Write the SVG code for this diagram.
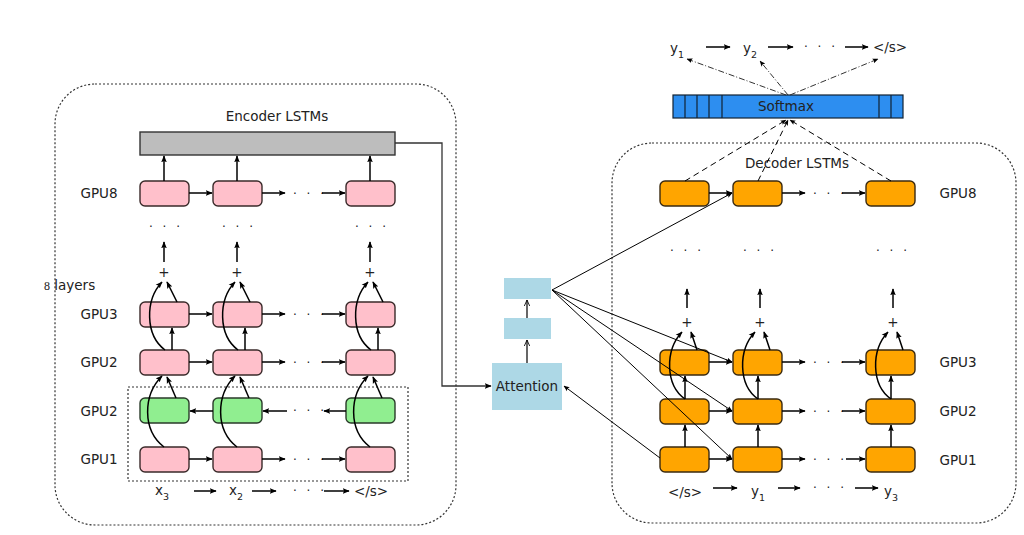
<svg xmlns="http://www.w3.org/2000/svg" width="1024" height="535" viewBox="0 0 1024 535">
<defs>
<marker id="ah" viewBox="0 0 10 10" refX="9" refY="5" markerWidth="7" markerHeight="7" orient="auto" markerUnits="userSpaceOnUse"><path d="M0,1 L10,5 L0,9 L2,5 z" fill="#000"/></marker>
<marker id="ahs" viewBox="0 0 10 10" refX="9" refY="5" markerWidth="6" markerHeight="6" orient="auto" markerUnits="userSpaceOnUse"><path d="M0,1 L10,5 L0,9 L2,5 z" fill="#000"/></marker>
<marker id="open" viewBox="0 0 10 10" refX="9" refY="5" markerWidth="7" markerHeight="7" orient="auto" markerUnits="userSpaceOnUse"><path d="M0,1 L9,5 L0,9" fill="none" stroke="#000" stroke-width="1.2"/></marker>
</defs>
<style>
text{font-family:"DejaVu Sans","Liberation Sans",sans-serif;font-size:13.5px;fill:#222}
.lbl{text-anchor:middle}
.pink{fill:#ffc0cb;stroke:#3a2a2a;stroke-width:1.4}
.green{fill:#90ee90;stroke:#2a3a2a;stroke-width:1.4}
.orange{fill:#ffa500;stroke:#3a2a10;stroke-width:1.4}
.blue{fill:#add8e6}
.a{fill:none;stroke:#000;stroke-width:1.5;marker-end:url(#ah)}
.t{fill:none;stroke:#000;stroke-width:1;marker-end:url(#ahs)}
.dash{fill:none;stroke:#000;stroke-width:1;stroke-dasharray:6,4;marker-end:url(#ahs)}
.dd{fill:none;stroke:#333;stroke-width:1;stroke-dasharray:6,2,1,2;marker-end:url(#ahs)}
.dots{font-size:12px;letter-spacing:3px}
.frame{fill:none;stroke:#333;stroke-width:1.2;stroke-dasharray:2,2}
</style>
<rect width="1024" height="535" fill="#fff"/>

<g id="encoder-frame"><rect class="frame" x="55" y="84" width="401" height="441" rx="40"/></g>
<g id="decoder-frame"><rect class="frame" x="612" y="143" width="404" height="380" rx="40"/></g>
<g id="bidir-frame"><rect class="frame" x="128" y="387" width="280" height="94"/></g>

<text class="lbl" x="277" y="121">Encoder LSTMs</text>
<text class="lbl" x="797" y="168">Decoder LSTMs</text>
<text x="44" y="290"><tspan font-family="Liberation Serif,serif" font-size="12">8</tspan> layers</text>

<text class="lbl" x="99" y="198">GPU8</text>
<text class="lbl" x="99" y="319">GPU3</text>
<text class="lbl" x="99" y="367">GPU2</text>
<text class="lbl" x="99" y="416">GPU2</text>
<text class="lbl" x="99" y="464">GPU1</text>

<g id="enc-out"><rect x="140" y="132" width="255" height="23" fill="#bdbdbd" stroke="#333" stroke-width="1.4"/></g>

<g id="enc-gpu8"><rect class="pink" x="140" y="181" width="49" height="25" rx="5"/><rect class="pink" x="213" y="181" width="49" height="25" rx="5"/><rect class="pink" x="346" y="181" width="49" height="25" rx="5"/></g>
<g id="enc-gpu3"><rect class="pink" x="140" y="302" width="49" height="25" rx="5"/><rect class="pink" x="213" y="302" width="49" height="25" rx="5"/><rect class="pink" x="346" y="302" width="49" height="25" rx="5"/></g>
<g id="enc-gpu2"><rect class="pink" x="140" y="350" width="49" height="25" rx="5"/><rect class="pink" x="213" y="350" width="49" height="25" rx="5"/><rect class="pink" x="346" y="350" width="49" height="25" rx="5"/></g>
<g id="enc-gpu2b"><rect class="green" x="140" y="398" width="49" height="25" rx="5"/><rect class="green" x="213" y="398" width="49" height="25" rx="5"/><rect class="green" x="346" y="398" width="49" height="25" rx="5"/></g>
<g id="enc-gpu1"><rect class="pink" x="140" y="447" width="49" height="25" rx="5"/><rect class="pink" x="213" y="447" width="49" height="25" rx="5"/><rect class="pink" x="346" y="447" width="49" height="25" rx="5"/></g>

<g id="enc-misc">
<text class="lbl dots" x="166" y="231">· · ·</text><text class="lbl dots" x="239" y="231">· · ·</text><text class="lbl dots" x="372" y="231">· · ·</text>
<text class="lbl" x="164" y="277">+</text><text class="lbl" x="237" y="277">+</text><text class="lbl" x="370" y="277">+</text>
<text class="lbl dots" x="310" y="198">· · ·</text>
<text class="lbl dots" x="310" y="319">· · ·</text>
<text class="lbl dots" x="310" y="367">· · ·</text>
<text class="lbl dots" x="310" y="415">· · ·</text>
<text class="lbl dots" x="310" y="464">· · ·</text>
<text x="155" y="495">x<tspan font-size="9.5" dy="5">3</tspan></text>
<text x="229" y="495">x<tspan font-size="9.5" dy="5">2</tspan></text>
<text class="lbl dots" x="310" y="495">· · ·</text>
<text class="lbl" x="371" y="496">&lt;/s&gt;</text>
</g>

<text class="lbl" x="958" y="198">GPU8</text>
<text class="lbl" x="958" y="367">GPU3</text>
<text class="lbl" x="958" y="416">GPU2</text>
<text class="lbl" x="958" y="465">GPU1</text>

<g id="dec-gpu8"><rect class="orange" x="660" y="181" width="49" height="25" rx="5"/><rect class="orange" x="733" y="181" width="49" height="25" rx="5"/><rect class="orange" x="866" y="181" width="49" height="25" rx="5"/></g>
<g id="dec-gpu3"><rect class="orange" x="660" y="350" width="49" height="25" rx="5"/><rect class="orange" x="733" y="350" width="49" height="25" rx="5"/><rect class="orange" x="866" y="350" width="49" height="25" rx="5"/></g>
<g id="dec-gpu2"><rect class="orange" x="660" y="399" width="49" height="25" rx="5"/><rect class="orange" x="733" y="399" width="49" height="25" rx="5"/><rect class="orange" x="866" y="399" width="49" height="25" rx="5"/></g>
<g id="dec-gpu1"><rect class="orange" x="660" y="447" width="49" height="25" rx="5"/><rect class="orange" x="733" y="447" width="49" height="25" rx="5"/><rect class="orange" x="866" y="447" width="49" height="25" rx="5"/></g>

<g id="dec-misc">
<text class="lbl dots" x="687" y="255">· · ·</text><text class="lbl dots" x="760" y="255">· · ·</text><text class="lbl dots" x="893" y="255">· · ·</text>
<text class="lbl" x="687" y="327">+</text><text class="lbl" x="760" y="327">+</text><text class="lbl" x="893" y="327">+</text>
<text class="lbl dots" x="830" y="198">· · ·</text>
<text class="lbl dots" x="830" y="367">· · ·</text>
<text class="lbl dots" x="830" y="416">· · ·</text>
<text class="lbl dots" x="830" y="464">· · ·</text>
<text class="lbl" x="685" y="497">&lt;/s&gt;</text>
<text x="751" y="496">y<tspan font-size="9.5" dy="5">1</tspan></text>
<text class="lbl dots" x="830" y="492">· · ·</text>
<text x="884" y="496">y<tspan font-size="9.5" dy="5">3</tspan></text>
</g>

<g id="softmax">
<rect x="673" y="95" width="230" height="23" fill="#2d8ef0" stroke="#123" stroke-width="1.2"/>
<path d="M685,95V118M697,95V118M709,95V118M722,95V118M879,95V118M891,95V118" stroke="#123" stroke-width="1.2"/>
<text class="lbl" x="786" y="111">Softmax</text>
</g>
<g id="outputs">
<text x="670" y="53">y<tspan font-size="9.5" dy="5">1</tspan></text>
<text x="743" y="53">y<tspan font-size="9.5" dy="5">2</tspan></text>
<text class="lbl dots" x="821" y="51">· · ·</text>
<text class="lbl" x="890" y="52">&lt;/s&gt;</text>
</g>

<g id="attention"><rect class="blue" x="492" y="363" width="70" height="47"/><text class="lbl" x="527" y="391">Attention</text></g>
<g id="att-l1"><rect class="blue" x="504" y="318" width="47" height="21"/></g>
<g id="att-l2"><rect class="blue" x="504" y="278" width="47" height="21"/></g>

<g id="connectors">
<path class="a" d="M189,193H212"/><path class="a" d="M262,193H285"/><path class="a" d="M322,193H345"/>
<path class="a" d="M189,314H212"/><path class="a" d="M262,314H285"/><path class="a" d="M322,314H345"/>
<path class="a" d="M189,362H212"/><path class="a" d="M262,362H285"/><path class="a" d="M322,362H345"/>
<path class="a" d="M213,411H190"/><path class="a" d="M287,411H263"/><path class="a" d="M346,411H324"/>
<path class="a" d="M189,459H212"/><path class="a" d="M262,459H285"/><path class="a" d="M322,459H345"/>
<path class="a" d="M164,181V156"/><path class="a" d="M237,181V156"/><path class="a" d="M370,181V156"/>
<path class="a" d="M164,262V242"/><path class="a" d="M237,262V242"/><path class="a" d="M370,262V242"/>
<path class="a" d="M172,350V328"/><path class="a" d="M245,350V328"/><path class="a" d="M378,350V328"/>
<path class="a" d="M164,447C142,430 143,395 162,376"/><path class="a" d="M237,447C215,430 216,395 235,376"/><path class="a" d="M370,447C348,430 349,395 368,376"/>
<path class="a" d="M176,398L167,377"/><path class="a" d="M249,398L240,377"/><path class="a" d="M382,398L373,377"/>
<path class="a" d="M165,350C145,335 145,300 162,282"/><path class="a" d="M238,350C218,335 218,300 235,282"/><path class="a" d="M371,350C351,335 351,300 368,282"/>
<path class="a" d="M177,302L167,282"/><path class="a" d="M250,302L240,282"/><path class="a" d="M383,302L373,282"/>
<path class="a" d="M194,491H216"/><path class="a" d="M252,491H276"/><path class="a" d="M324,491H349"/>
<path fill="none" stroke="#333" stroke-width="1.3" marker-end="url(#ah)" d="M395,143H442V386H491"/>
<path fill="none" stroke="#000" stroke-width="1.2" marker-end="url(#open)" d="M527,363V340"/>
<path fill="none" stroke="#000" stroke-width="1.2" marker-end="url(#open)" d="M527,318V300"/>
<path class="t" d="M552,290L732,193"/>
<path class="t" d="M552,290L732,362"/>
<path class="t" d="M552,290L732,411"/>
<path class="t" d="M552,290L732,459"/>
<path class="t" d="M660,458L564,386"/>
<path class="a" d="M709,193H732"/><path class="a" d="M782,193H805"/><path class="a" d="M842,193H865"/>
<path class="a" d="M709,362H732"/><path class="a" d="M782,362H805"/><path class="a" d="M842,362H865"/>
<path class="a" d="M709,411H732"/><path class="a" d="M782,411H805"/><path class="a" d="M842,411H865"/>
<path class="a" d="M709,459H732"/><path class="a" d="M782,459H805"/><path class="a" d="M846,459H865"/>
<path class="a" d="M685,447V425"/><path class="a" d="M758,447V425"/><path class="a" d="M891,447V425"/>
<path class="a" d="M685,399V376"/><path class="a" d="M758,399V376"/><path class="a" d="M891,399V376"/>
<path class="a" d="M685,399C665,385 665,350 682,332"/><path class="a" d="M758,399C738,385 738,350 755,332"/><path class="a" d="M891,399C871,385 871,350 888,332"/>
<path class="a" d="M697,350L691,332"/><path class="a" d="M770,350L764,332"/><path class="a" d="M903,350L897,332"/>
<path class="a" d="M687,308V289"/><path class="a" d="M760,308V289"/><path class="a" d="M893,308V289"/>
<path class="a" d="M713,488H737"/><path class="a" d="M778,488H800"/><path class="a" d="M855,488H878"/>
<path class="a" d="M706,47H730"/><path class="a" d="M768,47H793"/><path class="a" d="M845,47H868"/>
<path class="dash" d="M685,181L786,120"/><path class="dash" d="M758,181L788,120"/><path class="dash" d="M891,181L790,120"/>
<path class="dd" d="M786,95L687,59"/><path class="dd" d="M788,95L760,61"/><path class="dd" d="M790,95L878,59"/>
</g>
</svg>
